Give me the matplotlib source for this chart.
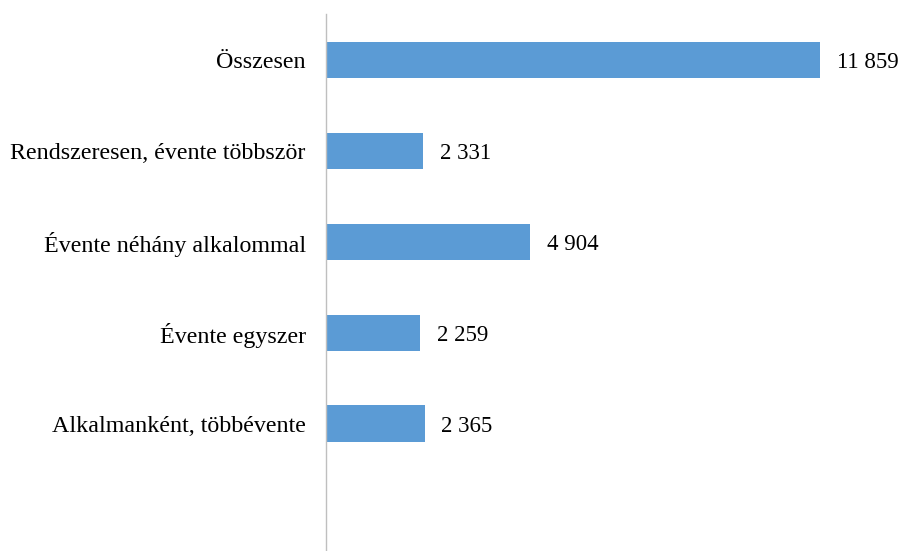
import matplotlib
matplotlib.use("Agg")
import matplotlib.pyplot as plt

categories = ["Összesen", "Rendszeresen, évente többször", "Évente néhány alkalommal",
              "Évente egyszer", "Alkalmanként, többévente"]
values = [11859, 2331, 4904, 2259, 2365]

def fmt(v):
    return f"{v:,}".replace(",", " ")

plt.rcParams['font.family'] = ['Liberation Serif', 'DejaVu Serif']

fig = plt.figure(figsize=(9.04, 5.51), dpi=100)
ax = fig.add_axes([326/904, 0, 1 - 326/904, 1 - 14/551])

pos = list(range(len(categories)))
ax.barh(pos, values, height=0.4, color="#5B9BD5")
ax.set_ylim(5.4, -0.505)
ax.set_xlim(0, max(values) * 578 / 494)

for p, v in zip(pos, values):
    ax.annotate(fmt(v), xy=(v, p), xytext=(12, -2), textcoords="offset points",
                va="center", ha="left", fontsize=16.5)

ax.set_yticks(pos)
ax.set_yticklabels(categories, fontsize=17.25, va="center_baseline")
ax.tick_params(axis="y", length=0, pad=14.5)
ax.set_xticks([])
for s in ["top", "right", "bottom"]:
    ax.spines[s].set_visible(False)
ax.spines["left"].set_color("#BFBFBF")
ax.spines["left"].set_linewidth(1.0)

fig.savefig("out.png", dpi=100)
